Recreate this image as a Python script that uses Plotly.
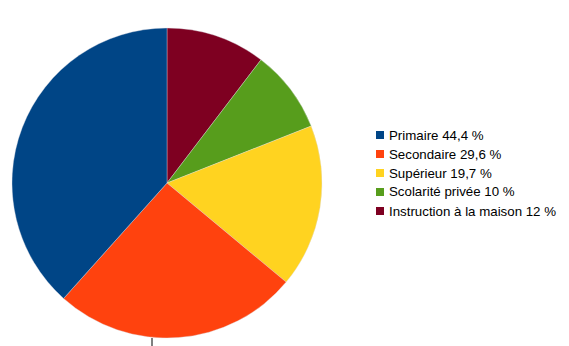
import plotly.graph_objects as go

labels = ["Primaire 44,4 %", "Secondaire 29,6 %", "Supérieur 19,7 %",
          "Scolarité privée 10 %", "Instruction à la maison 12 %"]
values = [44.4, 29.6, 19.7, 10, 12]
colors = ["#004586", "#ff420e", "#ffd320", "#579d1c", "#7e0021"]

W, H = 569, 346

# slices run counter-clockwise from 12 o'clock in the original;
# drawn here clockwise from 12 o'clock with the order reversed
fig = go.Figure(go.Pie(
    labels=labels[::-1],
    values=values[::-1],
    sort=False,
    direction="clockwise",
    rotation=0,
    marker=dict(colors=colors[::-1], line=dict(color="rgba(220,220,230,0.6)", width=0.6)),
    textinfo="none",
    hoverinfo="label",
    domain=dict(x=[12 / W, 322 / W], y=[8 / H, 318 / H]),
    showlegend=False,
))

# custom legend (small squares + text) built from the data lists
shapes = []
annotations = []
row0, step = 135, 19
for i, (lab, col) in enumerate(zip(labels, colors)):
    yc = row0 + step * i
    shapes.append(dict(type="rect", xref="paper", yref="paper",
                       x0=376 / W, x1=384 / W,
                       y0=1 - (yc + 4) / H, y1=1 - (yc - 4) / H,
                       fillcolor=col, line=dict(width=0)))
    annotations.append(dict(xref="paper", yref="paper",
                            x=387 / W, y=1 - yc / H,
                            xanchor="left", yanchor="middle",
                            text=lab, showarrow=False,
                            font=dict(size=13.3, color="#000000")))

shapes.append(dict(type="line", xref="paper", yref="paper",
                   x0=152 / W, x1=152 / W, y0=0, y1=8 / H,
                   line=dict(color="#000000", width=1)))

fig.update_layout(
    width=W, height=H,
    margin=dict(l=0, r=0, t=0, b=0),
    paper_bgcolor="white",
    plot_bgcolor="white",
    font=dict(family="Liberation Sans, Arial, sans-serif", size=12, color="#000000"),
    showlegend=False,
    shapes=shapes,
    annotations=annotations,
)

fig.write_html("out.html")
